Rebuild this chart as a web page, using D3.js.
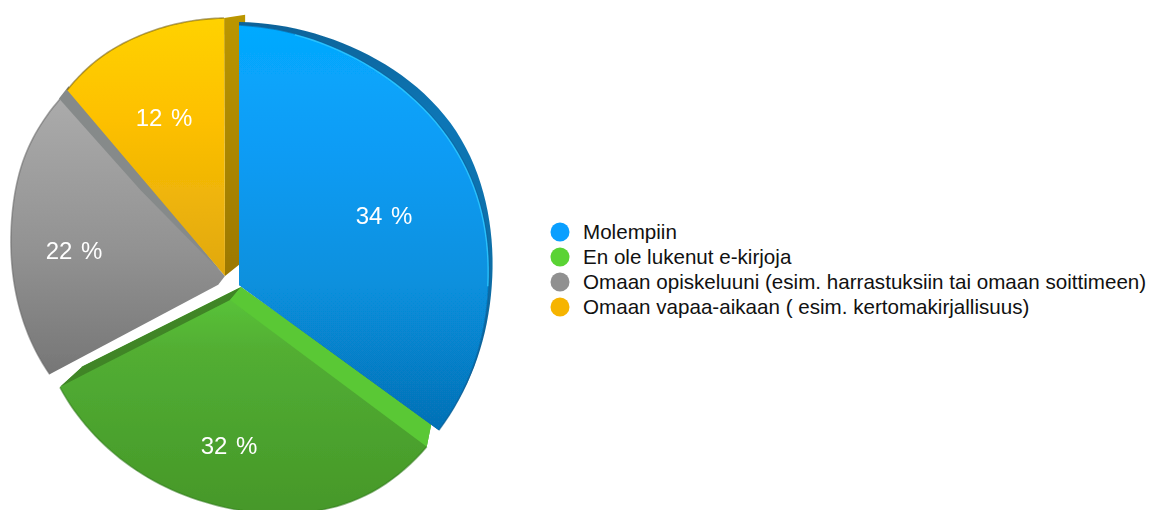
<!DOCTYPE html>
<html><head><meta charset="utf-8">
<script src="https://cdn.jsdelivr.net/npm/d3@7"></script>
<style>html,body{margin:0;padding:0;background:#fff}svg{display:block}text{font-family:"Liberation Sans",Arial,sans-serif}</style>
</head><body><svg id="c" width="1164" height="510"></svg>
<script>
const categories = ["Molempiin","En ole lukenut e-kirjoja","Omaan opiskeluuni (esim. harrastuksiin tai omaan soittimeen)","Omaan vapaa-aikaan ( esim. kertomakirjallisuus)"];
const values = [34,32,22,12];
const valueLabels = ["34 %","32 %","22 %","12 %"];
const legendColors = ["#0a9fff","#5ad334","#909090","#f6b400"];

// perspective layout of the pseudo-3D pie
const deg = Math.PI/180;
const apexes = [[239,285],[241,287],[225,276],[225,276]];
const screenAngles = [[0,126],[130.7,241],[240.7,317],[319.7,359.8]];
const faceRadii = [
  [260,256,255,257,255,249,248,247],
  [245,245,232,219,212,208,207],
  [201,206,212,221,235,242],
  [244,252,255,257,258]
];
const rimRadii = [263,262,265,268,260,252,249,247];
const faceStops = [
  [[25,"#05aaff"],[150,"#0a9cf5"],[285,"#0790dd"],[431,"#0670b5"]],
  [[285,"#5bc83a"],[350,"#52ae33"],[510,"#469829"]],
  [[98,"#ababab"],[250,"#929292"],[375,"#767676"]],
  [[18,"#ffd200"],[120,"#fdc000"],[276,"#e0a810"]]
];
const edgeColors = ["#0a5f96","#2f7a1c","#666666","#6e5a10"];
const labelPos = [[384,216],[229,446],[74,251],[164,118]];
// straight head and tail of each outline, in [degrees, radius] around the apex
const headPts = [[[0,0]],[[0,0],[125.5,234]],[[0,0],[218,11]],[[0,0]]];
const tailPts = [[],[[243.4,177]],[],[]];

const svg = d3.select("#c");
const defs = svg.append("defs");
defs.append("filter").attr("id","soft").append("feGaussianBlur").attr("stdDeviation",0.45);
const root = svg.append("g").attr("filter","url(#soft)");

const pie = d3.pie().sort(null).value(d=>d);
const arcs = pie(values);

const rad = a=>a*deg;
const straight = d3.lineRadial().angle(d=>rad(d[0])).radius(d=>d[1]);

function arcSamples(i,radii,from=0,to=1){
  const a = d3.scaleLinear([arcs[i].startAngle,arcs[i].endAngle],screenAngles[i]);
  const t = d3.scaleLinear([0,1],[arcs[i].startAngle,arcs[i].endAngle]);
  const r = d3.interpolateBasis(radii);
  return d3.range(0,61).map(k=>k/60).filter(u=>u>=from&&u<=to).map(u=>[a(t(u)),r(u)]);
}
function outline(i,radii,head,tail){
  return straight(head)+straight(arcSamples(i,radii)).replace("M","L")+(tail.length?straight(tail).replace("M","L"):"")+"Z";
}
function gradient(id,apexY,stops){
  const top=stops[0][0],bot=stops[stops.length-1][0];
  const s=d3.scaleLinear([top,bot],[0,1]);
  const g=defs.append("linearGradient").attr("id",id).attr("gradientUnits","userSpaceOnUse")
    .attr("x1",0).attr("x2",0).attr("y1",top-apexY).attr("y2",bot-apexY);
  g.selectAll("stop").data(stops).join("stop").attr("offset",d=>s(d[0])).attr("stop-color",d=>d[1]);
}
faceStops.forEach((st,i)=>gradient("f"+i,apexes[i][1],st));
gradient("yside",apexes[3][1],[[15,"#bb9600"],[276,"#9c7800"]]);
gradient("rim",apexes[0][1],[[20,"#0a6399"],[120,"#0c76b6"],[250,"#0b6fa8"],[430,"#0a5f96"]]);

const at=i=>`translate(${apexes[i][0]},${apexes[i][1]})`;

function face(i){
  root.append("path").attr("transform",at(i)).attr("fill",`url(#f${i})`)
    .attr("d",outline(i,faceRadii[i],headPts[i],tailPts[i]));
  root.append("path").attr("transform",at(i)).attr("fill","none").attr("stroke",edgeColors[i])
    .attr("stroke-width",1.6).attr("stroke-opacity",0.55).attr("d",straight(arcSamples(i,faceRadii[i])));
}
face(2);
// grey side wall facing the yellow slice
root.append("path").attr("transform",at(2)).attr("fill","#868a8a")
  .attr("d",straight([[0,0],[315.5,120],[316.9,243],[320.5,246]])+"Z");
// yellow side wall and slice
root.append("path").attr("transform",at(3)).attr("fill","url(#yside)")
  .attr("d",straight([[0,0],[-0.2,258],[4.4,262],[51.3,25.6]])+"Z");
face(3);
// green slice with side walls
face(1);
root.append("path").attr("transform",at(1)).attr("fill","#3f8526")
  .attr("d",straight([[0,0],[243.4,177],[241.1,207],[240.8,176],[220,17]])+"Z");
root.append("path").attr("transform",at(1)).attr("fill","#5ac836")
  .attr("d",straight([[0,0],[125.5,234],[130.7,245],[220,17]])+"Z");
// blue slice: rim, face, highlight
root.append("path").attr("transform",at(0)).attr("fill","url(#rim)")
  .attr("d",straight([[0,0]])+straight(arcSamples(0,rimRadii)).replace("M","L")+"Z");
face(0);
root.append("path").attr("transform",at(0)).attr("fill","none").attr("stroke","#2fc8ff")
  .attr("stroke-width",1.4).attr("stroke-opacity",0.85)
  .attr("d",straight(arcSamples(0,faceRadii[0].map(r=>r-1),0.1,0.72)));

// value labels
svg.selectAll("text.v").data(valueLabels).join("text").attr("class","v")
  .attr("x",(d,i)=>labelPos[i][0]).attr("y",(d,i)=>labelPos[i][1]).attr("dy","0.35em")
  .attr("text-anchor","middle").attr("font-size",24).attr("fill","#fff")
  .style("word-spacing","2px").text(d=>d);

// legend
const ly=d3.scalePoint().domain(categories).range([232,307]);
const lg=svg.selectAll("g.l").data(categories).join("g").attr("class","l")
  .attr("transform",d=>`translate(0,${ly(d)})`);
lg.append("circle").attr("cx",560).attr("r",9.5).attr("fill",(d,i)=>legendColors[i]);
lg.append("text").attr("x",583).attr("dy","0.35em").attr("font-size",20.6).attr("fill","#111").text(d=>d);
</script></body></html>
